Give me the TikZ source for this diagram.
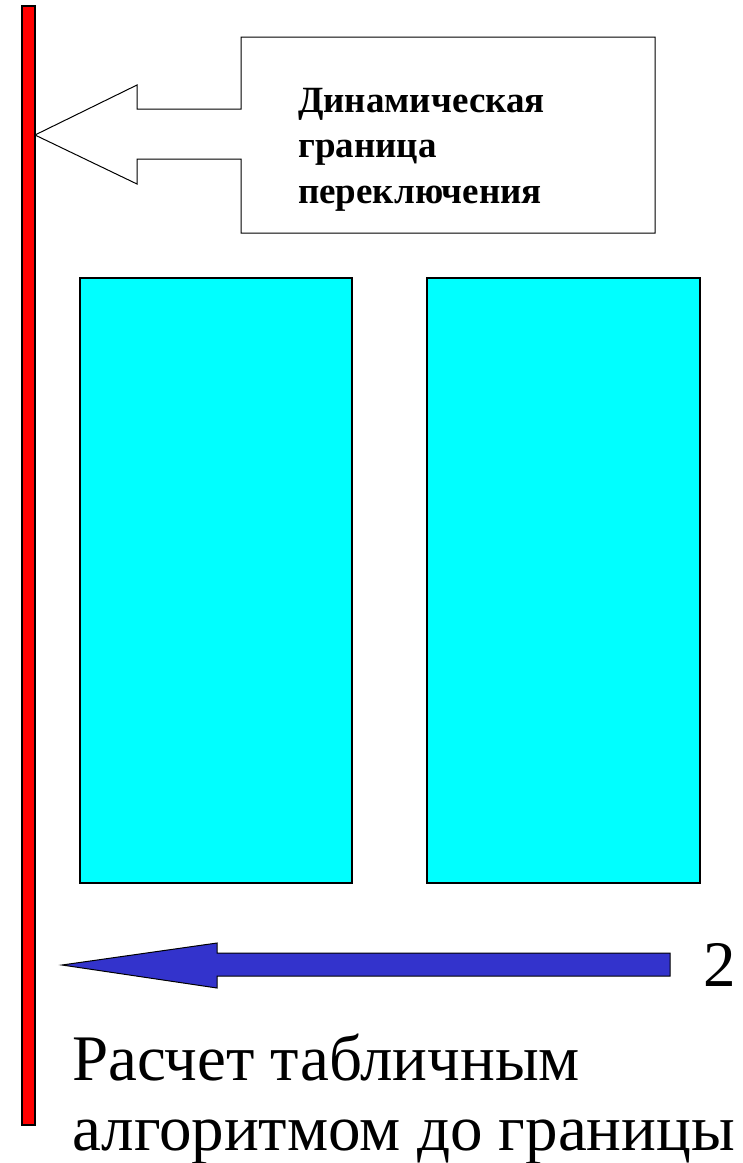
\documentclass[tikz,border=0pt]{standalone}
\usepackage{fontspec}
\setmainfont{Liberation Serif}
\definecolor{aqua}{RGB}{0,255,255}
\definecolor{arrowblue}{RGB}{51,51,204}
\begin{document}
\begin{tikzpicture}[x=1pt,y=-1pt,
  outline/.style={draw=black,line width=1.2pt},
  panel/.style={outline,fill=aqua},
  calltext/.style={font=\fontsize{37}{45.5}\selectfont\bfseries,align=left,anchor=base west,inner sep=0pt},
  bigtext/.style={font=\fontsize{65}{70}\selectfont,align=left,anchor=base west,inner sep=0pt}]
\useasboundingbox (0,0) rectangle (743,1163);
% red boundary bar
\draw[outline,fill=red] (22,6) rectangle (35,1125);
\coordinate (bar) at (35,135);
% callout
\draw[draw=black,line width=1pt,fill=white] (241,37) -- (655,37) -- (655,233) -- (241,233) -- (241,159)
  -- (137,159) -- (137,184) -- (bar) -- (137,85) -- (137,109) -- (241,109) -- cycle;
\node[calltext] (call) at (298,203) {Динамическая\\граница\\переключения};
% panels
\draw[panel] (80,278) rectangle (352,883);
\draw[panel] (427,278) rectangle (700,883);
% blue arrow
\draw[draw=black,line width=1pt,fill=arrowblue]
  (670,953) -- (217,953) -- (217,943) -- (62,965) -- (217,988) -- (217,976) -- (670,976) -- cycle;
\node[font=\fontsize{65}{70}\selectfont,anchor=base west,inner sep=0pt] (two) at (703,986) {2};
\node[bigtext] (calc) at (72,1150) {Расчет табличным\\алгоритмом до границы};
\end{tikzpicture}
\end{document}
